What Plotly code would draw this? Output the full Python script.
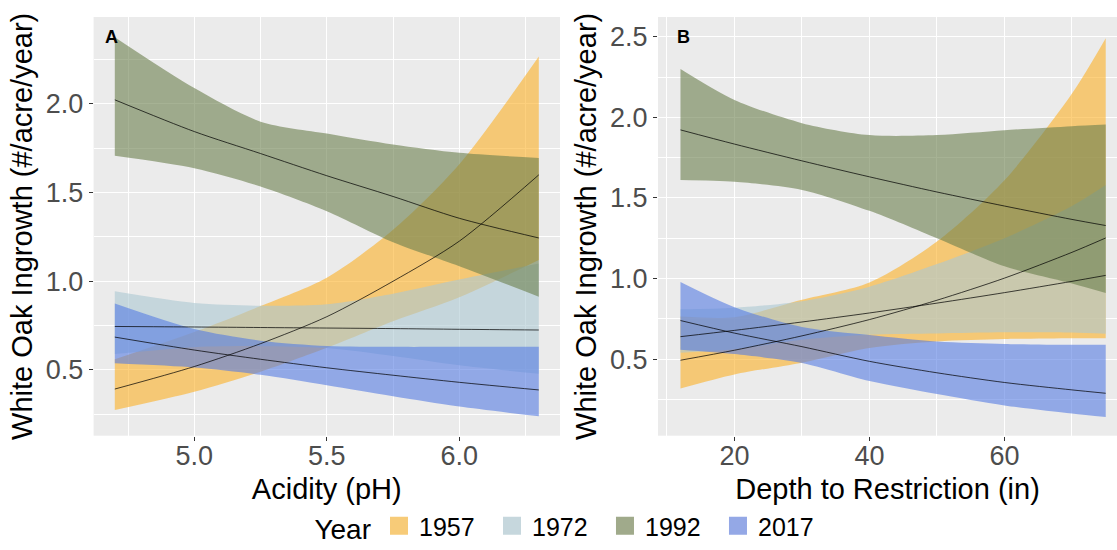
import plotly.graph_objects as go

# ---- Panel A: white oak ingrowth vs soil acidity ----
ph = [4.7, 5.0, 5.25, 5.5, 5.75, 6.0, 6.3]

a_1957_fit = [0.392, 0.519, 0.648, 0.80, 1.0, 1.226, 1.60]
a_1957_lo = [0.274, 0.377, 0.49, 0.625, 0.775, 0.91, 1.12]
a_1957_hi = [0.56, 0.714, 0.86, 1.02, 1.29, 1.66, 2.267]

a_1972_fit = [0.745, 0.742, 0.739, 0.736, 0.733, 0.729, 0.725]
a_1972_lo = [0.589, 0.628, 0.634, 0.623, 0.578, 0.526, 0.478]
a_1972_hi = [0.943, 0.877, 0.862, 0.87, 0.93, 1.01, 1.10]

a_1992_fit = [2.023, 1.844, 1.72, 1.595, 1.478, 1.355, 1.244]
a_1992_lo = [1.707, 1.637, 1.534, 1.395, 1.22, 1.085, 0.913]
a_1992_hi = [2.376, 2.089, 1.90, 1.833, 1.771, 1.724, 1.695]

a_2017_fit = [0.685, 0.612, 0.56, 0.512, 0.47, 0.43, 0.387]
a_2017_lo = [0.537, 0.513, 0.472, 0.413, 0.351, 0.293, 0.238]
a_2017_hi = [0.874, 0.73, 0.665, 0.635, 0.63, 0.63, 0.63]

# ---- Panel B: white oak ingrowth vs depth to restriction ----
depth = [12, 20, 30, 40, 50, 60, 70, 75]

b_1957_fit = [0.494, 0.556, 0.645, 0.746, 0.866, 1.003, 1.163, 1.252]
b_1957_lo = [0.319, 0.406, 0.479, 0.57, 0.61, 0.625, 0.63, 0.63]
b_1957_hi = [0.765, 0.761, 0.869, 0.976, 1.23, 1.61, 2.147, 2.49]

b_1972_fit = [0.64, 0.679, 0.731, 0.787, 0.848, 0.913, 0.983, 1.02]
b_1972_lo = [0.54, 0.562, 0.621, 0.652, 0.66, 0.667, 0.666, 0.658]
b_1972_hi = [0.81, 0.82, 0.86, 0.95, 1.09, 1.25, 1.45, 1.58]

b_1992_fit = [1.922, 1.834, 1.73, 1.631, 1.537, 1.45, 1.367, 1.329]
b_1992_lo = [1.611, 1.6, 1.55, 1.42, 1.25, 1.076, 0.97, 0.911]
b_1992_hi = [2.30, 2.108, 1.964, 1.89, 1.89, 1.92, 1.945, 1.955]

b_2017_fit = [0.74, 0.662, 0.578, 0.487, 0.416, 0.356, 0.31, 0.289]
b_2017_lo = [0.559, 0.532, 0.477, 0.365, 0.284, 0.213, 0.163, 0.1416]
b_2017_hi = [0.979, 0.823, 0.70, 0.65, 0.61, 0.595, 0.59, 0.59]

years = ["1957", "1972", "1992", "2017"]
fill_rgb = {
    "1957": (252, 177, 38),
    "1972": (172, 200, 210),
    "1992": (107, 127, 77),
    "2017": (85, 123, 227),
}
swatch = {
    "1957": "#F7CB78",
    "1972": "#C6D7DD",
    "1992": "#A0AA8B",
    "2017": "#94A8E6",
}
ALPHA = 0.6

panels = [
    ("x", "y", ph, {
        "1957": (a_1957_fit, a_1957_lo, a_1957_hi),
        "1972": (a_1972_fit, a_1972_lo, a_1972_hi),
        "1992": (a_1992_fit, a_1992_lo, a_1992_hi),
        "2017": (a_2017_fit, a_2017_lo, a_2017_hi),
    }),
    ("x2", "y2", depth, {
        "1957": (b_1957_fit, b_1957_lo, b_1957_hi),
        "1972": (b_1972_fit, b_1972_lo, b_1972_hi),
        "1992": (b_1992_fit, b_1992_lo, b_1992_hi),
        "2017": (b_2017_fit, b_2017_lo, b_2017_hi),
    }),
]

fig = go.Figure()

# confidence ribbons
for xa, ya, xs, series in panels:
    for yr in years:
        fit, lo, hi = series[yr]
        r, g, b = fill_rgb[yr]
        fig.add_trace(go.Scatter(
            x=xs, y=lo, xaxis=xa, yaxis=ya, mode="lines",
            line=dict(width=0, shape="spline", smoothing=0.8),
            showlegend=False, hoverinfo="skip"))
        fig.add_trace(go.Scatter(
            x=xs, y=hi, xaxis=xa, yaxis=ya, mode="lines",
            line=dict(width=0, shape="spline", smoothing=0.8),
            fill="tonexty", fillcolor=f"rgba({r},{g},{b},{ALPHA})",
            showlegend=False, hoverinfo="skip"))

# fitted lines on top
for xa, ya, xs, series in panels:
    for yr in years:
        fit, lo, hi = series[yr]
        fig.add_trace(go.Scatter(
            x=xs, y=fit, xaxis=xa, yaxis=ya, mode="lines",
            line=dict(width=0.9, color="rgba(0,0,0,0.8)", shape="spline", smoothing=0.8),
            showlegend=False, hoverinfo="skip"))

# legend keys
for yr in years:
    fig.add_trace(go.Scatter(
        x=[None], y=[None], mode="markers", name=yr,
        marker=dict(symbol="square", size=20, color=swatch[yr],
                    line=dict(color=swatch[yr], width=2)),
        showlegend=True))

FONT = "Liberation Sans, Arial, sans-serif"
tickfont = dict(family=FONT, size=27, color="#4D4D4D")
titlefont = dict(family=FONT, size=29, color="black")
ydom = [1 - 435.7 / 550, 1 - 17 / 550]

common = dict(
    showgrid=True, gridcolor="white", gridwidth=1.4,
    ticks="outside", ticklen=4, tickwidth=1, tickcolor="#333333",
    tickfont=tickfont, zeroline=False, showline=False,
)

fig.update_layout(
    width=1117, height=550,
    margin=dict(l=0, r=0, t=0, b=0),
    paper_bgcolor="white", plot_bgcolor="#EBEBEB",
    font=dict(family=FONT),
    xaxis=dict(
        domain=[93.6 / 1117, 560 / 1117], range=[4.62, 6.38], anchor="y",
        tickmode="array", tickvals=[5.0, 5.5, 6.0], ticktext=["5.0", "5.5", "6.0"],
        minor=dict(tickmode="array", tickvals=[4.75, 5.25, 5.75, 6.25], showgrid=True,
                   gridcolor="white", gridwidth=0.7, ticks=""),
        ticklabelstandoff=-8,
        title=dict(text="Acidity (pH)", font=titlefont, standoff=8),
        **common),
    yaxis=dict(
        domain=ydom, range=[0.129, 2.49], anchor="x",
        tickmode="array", tickvals=[0.5, 1.0, 1.5, 2.0], ticktext=["0.5", "1.0", "1.5", "2.0"],
        minor=dict(tickmode="array", tickvals=[0.25, 0.75, 1.25, 1.75, 2.25], showgrid=True,
                   gridcolor="white", gridwidth=0.7, ticks=""),
        title=dict(text="White Oak Ingrowth (#/acre/year)", font=titlefont, standoff=4),
        **common),
    xaxis2=dict(
        domain=[658 / 1117, 1.0], range=[8.67, 76.67], anchor="y2",
        tickmode="array", tickvals=[20, 40, 60], ticktext=["20", "40", "60"],
        minor=dict(tickmode="array", tickvals=[10, 30, 50, 70], showgrid=True,
                   gridcolor="white", gridwidth=0.7, ticks=""),
        ticklabelstandoff=-8,
        title=dict(text="Depth to Restriction (in)", font=titlefont, standoff=8),
        **common),
    yaxis2=dict(
        domain=ydom, range=[0.026, 2.622], anchor="x2",
        tickmode="array", tickvals=[0.5, 1.0, 1.5, 2.0, 2.5],
        ticktext=["0.5", "1.0", "1.5", "2.0", "2.5"],
        minor=dict(tickmode="array", tickvals=[0.25, 0.75, 1.25, 1.75, 2.25], showgrid=True,
                   gridcolor="white", gridwidth=0.7, ticks=""),
        title=dict(text="White Oak Ingrowth (#/acre/year)", font=titlefont, standoff=4),
        **common),
    legend=dict(
        orientation="h", x=0.512, xanchor="center", y=0.0, yanchor="bottom",
        traceorder="normal", entrywidth=68,
        title=dict(text="Year", font=dict(family=FONT, size=28, color="black"), side="left"),
        font=dict(family=FONT, size=25, color="black"),
        bgcolor="rgba(0,0,0,0)", itemsizing="trace",
    ),
    annotations=[
        dict(text="<b>A</b>", x=103 / 1117, y=1 - 25 / 550, xref="paper", yref="paper",
             showarrow=False, font=dict(family=FONT, size=18, color="black")),
        dict(text="<b>B</b>", x=683 / 1117, y=1 - 25 / 550, xref="paper", yref="paper",
             showarrow=False, font=dict(family=FONT, size=18, color="black")),
    ],
)

fig.write_html("out.html")
